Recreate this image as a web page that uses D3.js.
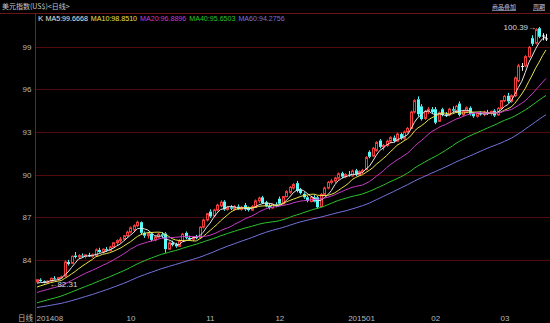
<!DOCTYPE html>
<html>
<head>
<meta charset="utf-8">
<script src="https://cdn.jsdelivr.net/npm/d3@7"></script>
<style>
  body { margin: 0; background: #000; }
  svg { display: block; }
</style>
</head>
<body>
<div id="chart"></div>
<script>
// Daily candles of the dollar index, [open, high, low, close]
const candles = [
  [82.45,82.65,82.40,82.60],[82.60,82.70,82.45,82.50],[82.50,82.55,82.35,82.40],[82.40,82.55,82.31,82.50],
  [82.50,82.75,82.45,82.70],[82.70,82.85,82.60,82.65],[82.65,82.80,82.55,82.75],[82.75,82.90,82.65,82.80],
  [82.85,83.95,82.80,83.85],[83.85,84.00,83.60,83.70],[83.75,84.30,83.70,84.25],[84.30,84.55,84.10,84.20],
  [84.20,84.40,84.05,84.30],[84.30,84.45,84.15,84.25],[84.25,84.40,84.10,84.35],[84.35,84.50,84.20,84.25],
  [84.25,84.45,84.15,84.35],[84.30,84.80,84.25,84.70],[84.70,84.85,84.50,84.55],[84.55,84.80,84.45,84.75],
  [84.75,84.90,84.55,84.65],[84.65,85.00,84.60,84.90],[84.90,85.25,84.85,85.20],[85.20,85.45,85.05,85.35],
  [85.35,85.60,85.20,85.45],[85.45,85.75,85.35,85.70],[85.70,86.05,85.60,85.95],[85.95,86.35,85.85,86.25],
  [86.10,86.50,85.95,86.40],[86.40,86.75,86.30,86.65],[86.65,86.70,85.80,85.90],[85.90,86.00,85.55,85.70],
  [85.70,85.95,85.50,85.85],[85.85,85.95,85.30,85.40],[85.40,85.70,85.30,85.60],[85.60,85.90,85.50,85.80],
  [85.80,85.95,85.55,85.70],[85.85,85.95,84.50,84.75],[84.75,85.30,84.70,85.20],[85.20,85.35,84.95,85.05],
  [85.10,85.20,84.85,84.95],[84.95,85.45,84.90,85.35],[85.35,85.90,85.30,85.80],[85.90,86.00,85.45,85.55],
  [85.55,85.70,85.35,85.45],[85.45,85.65,85.30,85.60],[85.60,85.75,85.45,85.55],[85.55,86.35,85.50,86.30],
  [86.30,86.90,86.20,86.80],[86.80,87.30,86.70,87.25],[87.40,87.55,86.95,87.05],[87.10,87.60,87.00,87.50],
  [87.50,87.95,87.40,87.85],[87.80,88.20,87.70,88.05],[88.10,88.20,87.45,87.55],[87.55,87.80,87.45,87.70],
  [87.70,87.85,87.50,87.60],[87.55,87.85,87.45,87.75],[87.75,87.90,87.50,87.55],[87.55,87.80,87.45,87.70],
  [87.85,88.00,87.45,87.55],[87.60,87.75,87.40,87.50],[87.50,87.85,87.45,87.75],[87.70,88.25,87.65,88.15],
  [88.15,88.45,88.00,88.35],[88.40,88.50,87.95,88.00],[88.05,88.15,87.70,87.75],[87.80,87.95,87.55,87.65],
  [87.65,87.95,87.60,87.90],[87.90,88.05,87.70,87.80],[88.30,88.45,87.85,87.95],[87.95,88.50,87.90,88.45],
  [88.45,88.90,88.40,88.80],[88.75,89.20,88.65,89.10],[89.05,89.40,88.95,89.30],[89.40,89.55,88.75,88.85],
  [88.95,89.05,88.60,88.70],[88.65,88.75,88.30,88.40],[88.40,88.50,88.05,88.15],[88.10,88.50,88.05,88.40],
  [88.40,88.55,88.05,88.10],[88.40,88.50,87.60,87.70],[87.75,88.70,87.70,88.60],[88.60,89.15,88.50,89.05],
  [89.05,89.55,88.95,89.45],[89.45,89.70,89.30,89.55],[89.55,89.85,89.40,89.75],[89.75,90.15,89.65,90.05],
  [90.10,90.20,89.75,89.85],[89.85,90.10,89.75,90.00],[90.00,90.25,89.85,89.95],[89.90,90.35,89.85,90.25],
  [90.30,90.40,89.90,90.00],[90.00,90.30,89.95,90.20],[90.20,90.40,90.05,90.30],[90.35,91.30,90.30,91.20],
  [91.60,91.70,91.15,91.25],[91.30,91.95,91.25,91.85],[91.70,92.35,91.60,92.25],[92.40,92.50,91.85,91.95],
  [91.95,92.15,91.70,92.05],[92.05,92.45,91.95,92.35],[92.35,92.70,92.20,92.60],[92.60,92.75,92.25,92.35],
  [92.35,92.95,92.30,92.85],[92.85,92.95,92.45,92.55],[92.55,93.10,92.45,93.00],[93.00,93.35,92.90,93.25],
  [93.25,94.50,93.20,94.40],[94.40,95.30,94.30,95.20],[95.30,95.50,94.10,94.25],[94.80,94.95,93.80,93.90],
  [93.95,94.55,93.85,94.45],[94.45,94.75,94.25,94.60],[94.60,94.75,94.30,94.40],[94.60,94.75,93.55,93.65],
  [93.75,94.45,93.70,94.35],[94.60,94.70,94.10,94.20],[94.25,94.40,94.05,94.15],[94.20,94.70,94.10,94.60],
  [94.60,94.80,94.40,94.50],[94.50,94.90,94.45,94.80],[95.00,95.15,94.10,94.20],[94.20,94.55,94.10,94.45],
  [94.45,94.80,94.35,94.70],[94.70,94.80,94.15,94.25],[94.30,94.40,94.00,94.10],[94.10,94.40,94.00,94.30],
  [94.30,94.45,94.15,94.25],[94.25,94.50,94.10,94.40],[94.40,94.55,94.20,94.30],[94.30,94.50,94.15,94.45],
  [94.50,94.60,94.05,94.15],[94.20,94.75,94.15,94.65],[94.65,95.25,94.55,95.20],[95.20,95.60,95.10,95.50],
  [95.55,95.75,95.05,95.15],[95.15,95.65,95.05,95.55],[95.55,96.90,95.45,96.80],[96.60,97.80,96.50,97.65],
  [97.60,97.85,97.30,97.60],[97.65,98.40,97.55,98.30],[98.30,99.05,98.20,98.95],[99.60,99.80,99.05,99.20],
  [99.25,100.30,99.15,100.20],[100.30,100.39,99.60,99.70],[99.75,99.95,99.45,99.75],[99.55,99.90,99.40,99.55]
];

// closes before the first visible candle, needed for the moving averages
const priorCloses = [
  79.9,80.1,80.2,80.1,80.0,80.1,80.2,80.1,80.2,80.1,80.0,79.9,79.8,79.9,80.0,79.8,79.7,79.9,79.8,79.7,79.7,
  79.7,79.9,80.0,80.1,80.0,79.9,80.0,80.1,80.2,80.3,80.4,80.4,80.5,80.5,80.6,80.5,80.6,80.7,80.8,81.0,81.1,81.1,
  81.3,81.4,81.5,81.4,81.3,81.5,81.6,81.7,81.6,81.8,81.9,82.1,82.3,82.4,82.3,82.2
];

const maPeriods = [5, 10, 20, 40, 60];
const maLabels = ["MA5:99.6668", "MA10:98.8510", "MA20:96.8896", "MA40:95.6503", "MA60:94.2756"];
const yTicks = [84, 87, 90, 93, 96, 99];
const monthLabels = ["201408", "10", "11", "12", "201501", "02", "03"];
const monthStarts = [0, 26, 49, 69, 90, 114, 134];

const maColors = ["#e6e6e6", "#e8e44c", "#c83cc8", "#2ec42e", "#7474e0"];
const upColor = "#f03c3c", downColor = "#54fcfc", flatColor = "#f0f0f0";
const gridColor = "#520a0a";
const textColor = "#b8b8b8";

const width = 550, height = 323;
const left = 35.5;

const svg = d3.select("#chart")
  .append("svg")
  .attr("width", width)
  .attr("height", height)
  .style("background", "#000")
  .style("font-family", "'Liberation Sans', 'Noto Sans CJK SC', sans-serif");

// Scales
const x = d3.scaleLinear().domain([0, candles.length - 1]).range([37, 546]);
const y = d3.scaleLinear().domain([80.47, 101.3]).range([310, 14]);

// Horizontal grid, snapped to whole pixels
svg.append("g").selectAll("line")
  .data(yTicks)
  .join("line")
  .attr("x1", left).attr("x2", width)
  .attr("y1", d => Math.round(y(d)) + 0.5)
  .attr("y2", d => Math.round(y(d)) + 0.5)
  .attr("stroke", gridColor);

// Left tick labels
const yAxis = svg.append("g")
  .attr("transform", `translate(${left},0)`)
  .call(d3.axisLeft(y).tickValues(yTicks).tickSize(0).tickPadding(4).tickFormat(d3.format("d")));
yAxis.select(".domain").remove();
yAxis.selectAll("text").attr("fill", textColor).style("font-size", "8px");

// Frame lines: header separator and left axis
svg.append("line").attr("x1", 0).attr("x2", width).attr("y1", 13.5).attr("y2", 13.5).attr("stroke", "#6a1616");
svg.append("line").attr("x1", left).attr("x2", left).attr("y1", 13).attr("y2", height).attr("stroke", "#7a1c1c");

// Month labels along the bottom
const xAxis = svg.append("g")
  .attr("transform", "translate(0,312)")
  .call(d3.axisBottom(x).tickValues(monthStarts).tickSize(0).tickPadding(3).tickFormat((d, i) => monthLabels[i]));
xAxis.select(".domain").remove();
xAxis.selectAll("text").attr("fill", textColor).attr("text-anchor", "start").attr("dx", -1).style("font-size", "8px");

svg.append("text").attr("x", 18).attr("y", 321).attr("fill", textColor)
  .style("font-size", "7.5px").style("font-family", "'Noto Sans CJK SC'").text("日线");

// Candles
const cg = svg.append("g");
candles.forEach(([o, h, l, c], i) => {
  const r = Math.round(x(i));
  const cx = r + 0.5;
  const color = c > o ? upColor : (c < o ? downColor : flatColor);
  const top = y(Math.max(o, c)), bot = y(Math.min(o, c));

  cg.append("line").attr("x1", cx).attr("x2", cx).attr("y1", y(h)).attr("y2", top).attr("stroke", color);
  cg.append("line").attr("x1", cx).attr("x2", cx).attr("y1", bot).attr("y2", y(l)).attr("stroke", color);

  if (c > o) {
    cg.append("rect")
      .attr("x", r - 0.5).attr("width", 2)
      .attr("y", top).attr("height", Math.max(bot - top, 1))
      .attr("fill", "#000").attr("stroke", color);
  } else if (c < o) {
    cg.append("rect")
      .attr("x", r - 1).attr("width", 3)
      .attr("y", top).attr("height", Math.max(bot - top, 1))
      .attr("fill", color);
  } else {
    cg.append("line").attr("x1", r - 1).attr("x2", r + 2).attr("y1", top).attr("y2", top).attr("stroke", color);
  }
});

// Moving averages
const allCloses = priorCloses.concat(candles.map(d => d[3]));
const offset = priorCloses.length;
const line = d3.line().x((d, i) => x(i)).y(d => y(d));

maPeriods.forEach((p, k) => {
  const values = candles.map((d, i) => d3.mean(allCloses.slice(offset + i - p + 1, offset + i + 1)));
  svg.append("path")
    .datum(values)
    .attr("fill", "none")
    .attr("stroke", maColors[k])
    .attr("stroke-width", 1)
    .attr("d", line);
});

// High / low markers
const hiIdx = d3.maxIndex(candles, d => d[1]);
const loIdx = d3.minIndex(candles, d => d[2]);
svg.append("text")
  .attr("x", x(hiIdx) - 3).attr("y", y(candles[hiIdx][1]) + 3)
  .attr("text-anchor", "end").attr("fill", "#d8d8d8").style("font-size", "8px")
  .text(d3.format(".2f")(candles[hiIdx][1]) + "\u2192");
svg.append("text")
  .attr("x", x(loIdx) + 2).attr("y", y(candles[loIdx][2]) + 3)
  .attr("fill", "#d8d8d8").style("font-size", "8px")
  .text("\u2190" + d3.format(".2f")(candles[loIdx][2]));

// Header row
svg.append("text").attr("x", 2).attr("y", 9).attr("fill", "#c8c8c8")
  .style("font-size", "7px").style("font-family", "'Noto Sans CJK SC'")
  .text("美元指数(US$)<日线>");

[["商品叠加", 492], ["周期", 533]].forEach(([t, px]) => {
  svg.append("text").attr("x", px).attr("y", 9).attr("fill", "#c4c8e8")
    .style("font-size", "6px").style("font-family", "'Noto Sans CJK SC'")
    .style("text-decoration", "underline").text(t);
});

// MA legend row
svg.append("text").attr("x", 38).attr("y", 21).attr("fill", "#e0e0e0").style("font-size", "8px").text("K");
let lx = 45.5;
maLabels.forEach((t, k) => {
  const w = t.length * 3.85;
  svg.append("text")
    .attr("x", lx).attr("y", 21)
    .attr("fill", maColors[k])
    .attr("textLength", w).attr("lengthAdjust", "spacingAndGlyphs")
    .style("font-size", "8px")
    .text(t);
  lx += w + 3;
});
</script>
</body>
</html>
